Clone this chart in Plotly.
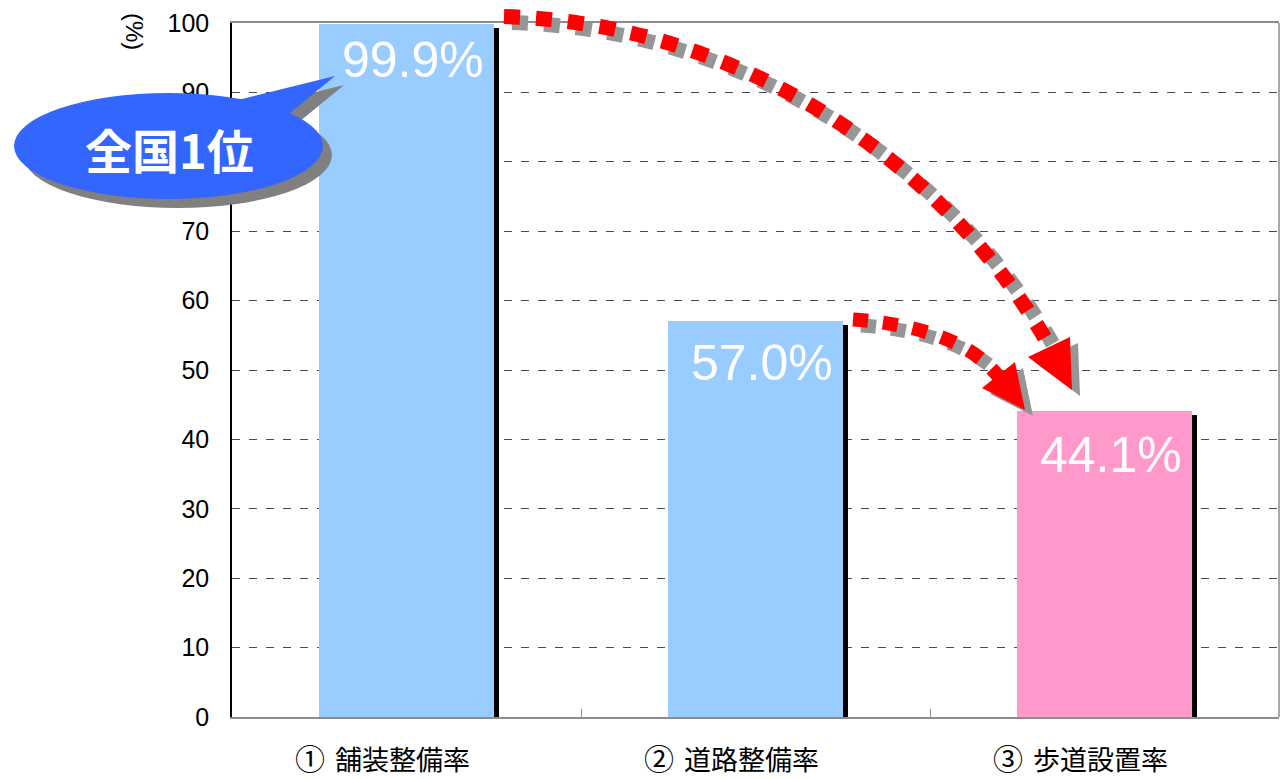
import plotly.graph_objects as go

# ---- data -------------------------------------------------------------
categories = ["舗装整備率", "道路整備率", "歩道設置率"]
markers = ["①", "②", "③"]
values = [99.9, 57.0, 44.1]
value_labels = ["99.9%", "57.0%", "44.1%"]
bar_colors = ["#99CCFF", "#99CCFF", "#FF99CC"]
y_ticks = list(range(0, 101, 10))
callout_text = "全国1位"
unit_text = "(%)"

# ---- geometry helpers (plot area in page pixels) ----------------------
W, H = 1282, 779
L, R, T, B = 232, 1279, 23, 717


def px(x):
    return (x - L) / (R - L)


def py(y):
    return (B - y) / (B - T)


def pt(x, y, dx=0, dy=0):
    return f"{px(x + dx):.5f},{py(y + dy):.5f}"


def curve(p0, p1, p2, p3, dx=0, dy=0):
    return (f"M {pt(*p0, dx, dy)} C {pt(*p1, dx, dy)} "
            f"{pt(*p2, dx, dy)} {pt(*p3, dx, dy)}")


def polygon(points, dx=0, dy=0):
    head, *rest = points
    return "M " + pt(*head, dx, dy) + "".join(" L " + pt(*p, dx, dy) for p in rest) + " Z"


px_per_unit = (B - T) / 100.0
shadow_drop = 4 / px_per_unit          # black edge starts a few px below bar top

fig = go.Figure()

fig.add_trace(go.Bar(
    x=categories, y=values, width=0.5,
    marker=dict(color=bar_colors, line=dict(width=0)),
    hoverinfo="skip", showlegend=False,
))
# dark edge on the right side of each bar
fig.add_trace(go.Bar(
    x=categories, y=[v - shadow_drop for v in values],
    width=0.016, offset=0.25,
    marker=dict(color="black", line=dict(width=0)),
    hoverinfo="skip", showlegend=False,
))

shapes = []
annotations = []

# right border of the plot frame
shapes.append(dict(type="line", xref="paper", yref="paper", x0=1, x1=1, y0=0, y1=1,
                   line=dict(color="#8c8c8c", width=1.5)))

# ---- curved dotted arrows ---------------------------------------------
RED, GREY = "#FF0000", "#969696"
SH = (8, 6)
arrows = [
    dict(c=[(504, 16.5), (754, 24), (952, 173), (1050, 347)],
         head=[(1028, 357), (1070, 337), (1072, 390)], w=15, dash="16px,16px"),
    dict(c=[(853, 319.5), (915, 324), (970, 340), (998, 376)],
         head=[(982, 388), (1015, 362), (1025, 410)], w=14, dash="15px,15px"),
]
for a in arrows:
    shapes.append(dict(type="path", xref="paper", yref="paper", path=curve(*a["c"], *SH),
                       line=dict(color=GREY, width=a["w"], dash=a["dash"])))
    shapes.append(dict(type="path", xref="paper", yref="paper", path=polygon(a["head"], *SH),
                       fillcolor=GREY, line=dict(width=0)))
for a in arrows:
    shapes.append(dict(type="path", xref="paper", yref="paper", path=curve(*a["c"]),
                       line=dict(color=RED, width=a["w"], dash=a["dash"])))
    shapes.append(dict(type="path", xref="paper", yref="paper", path=polygon(a["head"]),
                       fillcolor=RED, line=dict(width=0)))

# ---- speech-bubble callout --------------------------------------------
BLUE = "#3366FF"
ell = (14, 93, 323, 199)
tail = [(238, 100), (335, 76), (290, 113), (262, 135)]
CS = (9, 9)
shapes.append(dict(type="circle", xref="paper", yref="paper",
                   x0=px(ell[0] + CS[0]), x1=px(ell[2] + CS[0]),
                   y0=py(ell[3] + CS[1]), y1=py(ell[1] + CS[1]),
                   fillcolor="#808080", line=dict(width=0)))
shapes.append(dict(type="path", xref="paper", yref="paper", path=polygon(tail, *CS),
                   fillcolor="#808080", line=dict(width=0)))
shapes.append(dict(type="circle", xref="paper", yref="paper",
                   x0=px(ell[0]), x1=px(ell[2]), y0=py(ell[3]), y1=py(ell[1]),
                   fillcolor=BLUE, line=dict(width=0)))
shapes.append(dict(type="path", xref="paper", yref="paper", path=polygon(tail),
                   fillcolor=BLUE, line=dict(width=0)))

annotations.append(dict(
    xref="paper", yref="paper", x=px(169), y=py(149), text=f"<b>{callout_text}</b>",
    showarrow=False, xanchor="center", yanchor="middle",
    font=dict(family="Noto Sans CJK JP", size=47, color="white"),
))

# ---- value labels inside the bars -------------------------------------
label_drop_px = [36, 42, 44]
for cat, v, lab, drop in zip(categories, values, value_labels, label_drop_px):
    annotations.append(dict(
        xref="x", yref="y", x=cat, y=v, text=lab, showarrow=False,
        xanchor="center", yanchor="middle", xshift=6, yshift=-drop,
        font=dict(family="Liberation Sans", size=50, color="white"),
    ))

# ---- category labels under the axis (circled number + name) -----------
for cat, m in zip(categories, markers):
    annotations.append(dict(
        xref="x", yref="paper", x=cat, y=py(757), text=m,
        showarrow=False, xanchor="center", yanchor="middle", xshift=-97,
        font=dict(family="Noto Sans CJK JP", size=30, color="black"),
    ))
    annotations.append(dict(
        xref="x", yref="paper", x=cat, y=py(758), text=cat,
        showarrow=False, xanchor="center", yanchor="middle", xshift=-4,
        font=dict(family="Noto Sans CJK JP", size=27, color="black"),
    ))

# unit label beside the y axis
annotations.append(dict(
    xref="paper", yref="paper", x=px(134), y=py(31), text=unit_text, textangle=90,
    showarrow=False, xanchor="center", yanchor="middle",
    font=dict(family="Liberation Sans", size=24, color="black"),
))

fig.update_layout(
    width=W, height=H,
    margin=dict(l=L, r=W - R, t=T, b=H - B, pad=0),
    paper_bgcolor="white", plot_bgcolor="white",
    barmode="overlay", bargap=0,
    showlegend=False,
    shapes=shapes, annotations=annotations,
    xaxis=dict(
        type="category", showticklabels=False,
        showline=True, linecolor="#8c8c8c", linewidth=1.5, mirror=True,
        ticks="inside", tickson="boundaries", ticklen=8, tickcolor="#8c8c8c",
        showgrid=False, zeroline=False, fixedrange=True,
    ),
    yaxis=dict(
        range=[0, 100], tickvals=y_ticks, ticktext=[str(t) for t in y_ticks],
        showline=True, linecolor="black", linewidth=1.5,
        showgrid=True, gridcolor="#4a4a4a", gridwidth=1, griddash="8px,9px",
        zeroline=False, ticks="", ticklabelstandoff=16,
        tickfont=dict(family="Liberation Sans", size=25, color="black"),
        fixedrange=True,
    ),
)

fig.write_html("out.html")
